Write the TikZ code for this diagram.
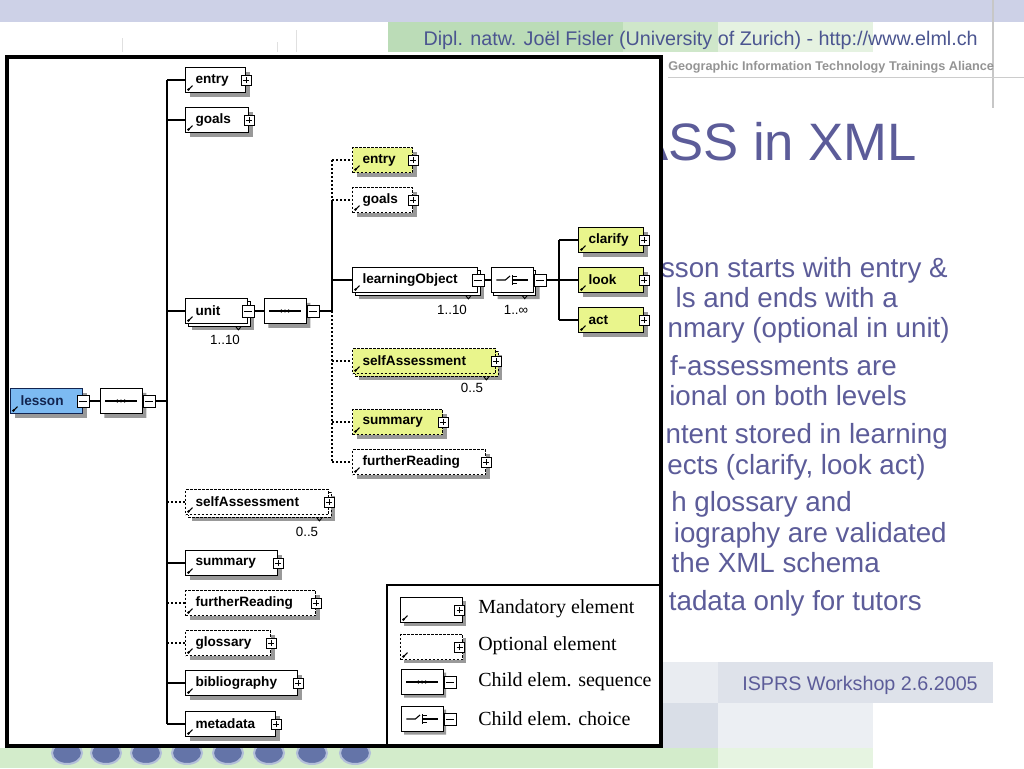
\documentclass[tikz,border=0pt]{standalone}
\usepackage{fontspec}
\setmainfont{Liberation Sans}
\newfontfamily\lgserif{Liberation Serif}
\usetikzlibrary{shapes.misc,shadows}
\definecolor{slate}{HTML}{5C5C99}
\definecolor{hdr}{HTML}{4B5590}
\definecolor{topband}{HTML}{CDD1E7}
\definecolor{gA}{HTML}{BBDCB7}
\definecolor{gB}{HTML}{CFE7CA}
\definecolor{gC}{HTML}{E5F2E1}
\definecolor{gbot}{HTML}{D3ECCB}
\definecolor{gbotb}{HTML}{E6F4E1}
\definecolor{yel}{HTML}{E9F58C}
\definecolor{lblue}{HTML}{7CBAF2}
\definecolor{navy}{HTML}{12244F}
\definecolor{grA}{HTML}{E9ECF1}
\definecolor{grB}{HTML}{DEE2EA}
\definecolor{grC}{HTML}{D9DEE7}
\definecolor{grD}{HTML}{ECEFF3}
\definecolor{btn}{HTML}{6474A8}
\definecolor{btnring}{HTML}{B3BFD9}
\definecolor{shadowc}{HTML}{999999}
\tikzset{
  elbase/.style={rectangle, draw=black, line width=0.75pt, fill=white, minimum height=18.75pt,
    text width=#1, inner xsep=7.5pt, inner ysep=0pt, align=left, anchor=west,
    font=\bfseries\fontsize{10.2}{12}\selectfont},
  el/.style={elbase=#1,
    path picture={\draw[black, solid, line width=0.8pt] ([xshift=2.2pt,yshift=2.2pt]path picture bounding box.south west) -- ++(3pt,3pt);
      \fill[black] ([xshift=2.2pt,yshift=2.2pt]path picture bounding box.south west) circle (1.1pt);}},
  multi/.style={copy shadow={shadow xshift=2.2pt, shadow yshift=-2.2pt}},
  opt/.style={dash pattern=on 1.8pt off 1.2pt},
  yl/.style={fill=yel},
  pmbase/.style={rectangle, draw=black, fill=white, line width=0.6pt, inner sep=0pt, solid},
  pbox/.style={pmbase, minimum size=7.5pt,
    path picture={\draw[line width=0.6pt] ([xshift=1.4pt]path picture bounding box.west) -- ([xshift=-1.4pt]path picture bounding box.east)
      ([yshift=1.4pt]path picture bounding box.south) -- ([yshift=-1.4pt]path picture bounding box.north);}},
  mbox/.style={pmbase, minimum size=9pt,
    path picture={\draw[line width=0.6pt] ([xshift=1.5pt]path picture bounding box.west) -- ([xshift=-1.5pt]path picture bounding box.east);}},
  oct/.style={chamfered rectangle, chamfered rectangle xsep=4pt, draw=black, line width=0.75pt, fill=white,
    minimum width=31.5pt, minimum height=18.75pt, inner sep=0pt},
  octsh/.style={oct, fill=shadowc, draw=none, xshift=#1, yshift=-#1},
  seqicon/.style={path picture={\draw[black, line width=0.8pt] ([xshift=4pt]path picture bounding box.west) -- ([xshift=-4pt]path picture bounding box.east);
      \foreach \d in {-2.7,0,2.7} \fill[black] ([xshift=\d pt]path picture bounding box.center) circle (1.3pt);}},
  choiceicon/.style={path picture={
      \draw[line width=0.8pt] ([xshift=4pt]path picture bounding box.west) -- ([xshift=-5pt]path picture bounding box.center) -- ([xshift=-1.5pt,yshift=3pt]path picture bounding box.center);
      \draw[line width=0.8pt] ([xshift=0.5pt,yshift=-3.5pt]path picture bounding box.center) -- ([xshift=0.5pt,yshift=3.5pt]path picture bounding box.center);
      \draw[line width=0.6pt] ([xshift=0.5pt,yshift=2.5pt]path picture bounding box.center) -- ++(3pt,0pt)
        ([xshift=0.5pt,yshift=-2.5pt]path picture bounding box.center) -- ++(3pt,0pt);
      \draw[line width=0.8pt] ([xshift=0.5pt]path picture bounding box.center) -- ([xshift=-4pt]path picture bounding box.east);}},
  con/.style={line width=1pt},
  optcon/.style={line width=1pt, dash pattern=on 1.5pt off 1.5pt},
  card/.style={inner sep=0pt, font=\fontsize{10}{12}\selectfont},
  tickmk/.style={line width=0.7pt},
  lgtext/.style={anchor=west, inner sep=0pt, font=\lgserif\fontsize{15}{17}\selectfont},
  bl/.style={anchor=base east, inner sep=0pt, font=\fontsize{20.8}{24}\selectfont, text=slate}
}
% #1 name, #2 text width, #3 position, #4 options, #5 label, #6 shadow offset
\newcommand\elnode[6]{%
  \node[elbase=#2, fill=shadowc, draw=none, xshift=#6, yshift=-#6] (#1-sh) at (#3) {};
  \node[el=#2, #4] (#1) at (#3) {#5};}
\begin{document}
\begin{tikzpicture}[x=0.75pt,y=-0.75pt]
\useasboundingbox (0,0) rectangle (1024,768);
% ---------- slide background ----------
\fill[white] (0,0) rectangle (1024,768);
\fill[topband] (0,0) rectangle (1024,22);
\fill[gA] (388,22) rectangle (623,52);
\fill[gB] (623,22) rectangle (718,52);
\fill[gC] (718,22) rectangle (873,52);
\draw[black!12, line width=0.75pt] (122,38) -- (122,52) (277,42) -- (277,52) (296,30) -- (296,52);
\draw[black!22, line width=1pt] (993,0) -- (993,108);
\draw[black!20, line width=0.75pt] (668,77) -- (1024,77);
\node[anchor=base east, inner sep=0pt, font=\fontsize{14.8}{16}\selectfont, text=hdr] (hdr) at (978,45)
  {Dipl. natw. Joël Fisler (University of Zurich) - http://www.elml.ch};
\node[anchor=base west, inner sep=0pt, font=\bfseries\fontsize{9.5}{11}\selectfont, text=black!42] (gitta) at (668,70)
  {Geographic Information Technology Trainings Aliance};
\node[anchor=base west, inner sep=0pt, font=\fontsize{39.5}{42}\selectfont, text=slate] (title) at (633,160) {ASS in XML};
\node[bl] (b1) at (948,277) {sson starts with entry \&};
\node[bl] (b2) at (898,307) {ls and ends with a};
\node[bl] (b3) at (950,337) {nmary (optional in unit)};
\node[bl] (b4) at (897,375) {f-assessments are};
\node[bl] (b5) at (907,405) {ional on both levels};
\node[bl] (b6) at (948,443) {ntent stored in learning};
\node[bl] (b7) at (926,474) {ects (clarify, look act)};
\node[bl] (b8) at (852,511) {h glossary and};
\node[bl] (b9) at (947,542) {iography are validated};
\node[bl] (b10) at (880,572) {the XML schema};
\node[bl] (b11) at (922,610) {tadata only for tutors};
\fill[grA] (640,662) rectangle (718,703);
\fill[grB] (718,662) rectangle (993,703);
\fill[grC] (640,703) rectangle (718,748);
\fill[grD] (718,703) rectangle (873,748);
\fill[gbot] (0,748) rectangle (718,768);
\fill[gbotb] (718,748) rectangle (873,768);
\node[anchor=base east, inner sep=0pt, font=\fontsize{14.8}{16}\selectfont, text=slate] (isprs) at (978,690) {ISPRS Workshop 2.6.2005};
\foreach \x in {67,106,146,187,228,269,312,355}
  \filldraw[fill=btn, draw=btnring, line width=1.5pt] (\x,753) ellipse (15 and 11);
% ---------- diagram frame ----------
\fill[white] (7,57) rectangle (661,746);
% ---------- lesson ----------
\elnode{lesson}{39pt}{10,401}{fill=lblue, draw=navy, text=navy}{lesson}{3.2pt}
\node[mbox] (lesson-m) at (lesson.east) {};
\node[octsh=3.2pt] (lseq-sh) at (121,401) {};
\node[oct, seqicon] (lseq) at (121,401) {};
\node[mbox, anchor=west] (lseq-m) at (lseq.east) {};
\coordinate (lbar) at (167,401);
% lesson children
\elnode{l1}{30pt}{185,80}{}{entry}{3.2pt}
\node[pbox] (l1p) at (l1.east) {};
\elnode{l2}{32.25pt}{185,120}{}{goals}{3.2pt}
\node[pbox] (l2p) at (l2.east) {};
\elnode{l3}{31.5pt}{185,311}{multi}{unit}{5pt}
\node[mbox] (l3m) at (l3.east) {};
\elnode{l4}{92.25pt}{185,502}{multi, opt}{selfAssessment}{5pt}
\node[pbox] (l4p) at (l4.east) {};
\elnode{l5}{54pt}{185,563}{}{summary}{3.2pt}
\node[pbox] (l5p) at (l5.east) {};
\elnode{l6}{82.5pt}{185,603}{opt}{furtherReading}{3.2pt}
\node[pbox] (l6p) at (l6.east) {};
\elnode{l7}{48.75pt}{185,643}{opt}{glossary}{3.2pt}
\node[pbox] (l7p) at (l7.east) {};
\elnode{l8}{69pt}{185,683}{}{bibliography}{3.2pt}
\node[pbox] (l8p) at (l8.east) {};
\elnode{l9}{52.5pt}{185,724}{}{metadata}{3.2pt}
\node[pbox] (l9p) at (l9.east) {};
\node[card] (l3c) at (225,340) {1..10};
\node[card] (l4c) at (307,532) {0..5};
\draw[tickmk] ([xshift=-9pt,yshift=-2.2pt]l3.south east) -- ++(1.8pt,-2.2pt) -- ++(1.8pt,2.2pt);
\draw[tickmk] ([xshift=-9pt,yshift=-2.2pt]l4.south east) -- ++(1.8pt,-2.2pt) -- ++(1.8pt,2.2pt);
% unit content
\node[octsh=3.2pt] (useq-sh) at (285,311) {};
\node[oct, seqicon] (useq) at (285,311) {};
\node[mbox, anchor=west] (useq-m) at (useq.east) {};
\coordinate (ubar) at (332,311);
\elnode{u1}{30pt}{352,160}{opt, yl}{entry}{3.2pt}
\node[pbox] (u1p) at (u1.east) {};
\elnode{u2}{30pt}{352,200}{opt}{goals}{3.2pt}
\node[pbox] (u2p) at (u2.east) {};
\elnode{u3}{78.75pt}{352,280}{multi}{learningObject}{5pt}
\node[mbox] (u3m) at (u3.east) {};
\elnode{u4}{92.25pt}{352,361}{multi, opt, yl}{selfAssessment}{5pt}
\node[pbox] (u4p) at (u4.east) {};
\elnode{u5}{52.5pt}{352,422}{opt, yl}{summary}{3.2pt}
\node[pbox] (u5p) at (u5.east) {};
\elnode{u6}{84.75pt}{352,462}{opt}{furtherReading}{3.2pt}
\node[pbox] (u6p) at (u6.east) {};
\node[card] (u3c) at (452,310) {1..10};
\node[card] (u4c) at (472,388) {0..5};
\draw[tickmk] ([xshift=-9pt,yshift=-2.2pt]u3.south east) -- ++(1.8pt,-2.2pt) -- ++(1.8pt,2.2pt);
\draw[tickmk] ([xshift=-9pt,yshift=-2.2pt]u4.south east) -- ++(1.8pt,-2.2pt) -- ++(1.8pt,2.2pt);
% learningObject content
\node[octsh=5pt] (uch-sh) at (512,280) {};
\node[oct, choiceicon, multi] (uch) at (512,280) {};
\node[mbox, anchor=west] (uch-m) at (uch.east) {};
\node[card] (uchc) at (516,310) {1..∞};
\draw[tickmk] ([xshift=-8pt,yshift=-2.2pt]uch.south east) -- ++(1.8pt,-2.2pt) -- ++(1.8pt,2.2pt);
\coordinate (obar) at (559,280);
\elnode{o1}{33.75pt}{578,240}{yl}{clarify}{3.2pt}
\node[pbox] (o1p) at (o1.east) {};
\elnode{o2}{33.75pt}{578,280}{yl}{look}{3.2pt}
\node[pbox] (o2p) at (o2.east) {};
\elnode{o3}{33.75pt}{578,320}{yl}{act}{3.2pt}
\node[pbox] (o3p) at (o3.east) {};
% ---------- connectors ----------
\draw[con] (lesson-m.east) -- (lseq.west);
\draw[con] (lseq-m.east) -- (lbar);
\draw[con] (l1.west -| lbar) -- (l9.west -| lbar);
\draw[con] (l1.west -| lbar) -- (l1.west);
\draw[con] (l2.west -| lbar) -- (l2.west);
\draw[con] (l3.west -| lbar) -- (l3.west);
\draw[optcon] (l4.west -| lbar) -- (l4.west);
\draw[con] (l5.west -| lbar) -- (l5.west);
\draw[optcon] (l6.west -| lbar) -- (l6.west);
\draw[optcon] (l7.west -| lbar) -- (l7.west);
\draw[con] (l8.west -| lbar) -- (l8.west);
\draw[con] (l9.west -| lbar) -- (l9.west);
\draw[con] (l3m.east) -- (useq.west);
\draw[con] (useq-m.east) -- (ubar);
\draw[optcon] (u1.west -| ubar) -- (u2.west -| ubar);
\draw[con] (u2.west -| ubar) -- (ubar);
\draw[optcon] (ubar) -- (u6.west -| ubar);
\draw[optcon] (u1.west -| ubar) -- (u1.west);
\draw[optcon] (u2.west -| ubar) -- (u2.west);
\draw[con] (u3.west -| ubar) -- (u3.west);
\draw[optcon] (u4.west -| ubar) -- (u4.west);
\draw[optcon] (u5.west -| ubar) -- (u5.west);
\draw[optcon] (u6.west -| ubar) -- (u6.west);
\draw[con] (u3m.east) -- (uch.west);
\draw[con] (uch-m.east) -- (obar);
\draw[con] (o1.west -| obar) -- (o3.west -| obar);
\draw[con] (o1.west -| obar) -- (o1.west);
\draw[con] (o2.west -| obar) -- (o2.west);
\draw[con] (o3.west -| obar) -- (o3.west);
% ---------- legend ----------
\draw[line width=0.9pt] (387,585) rectangle (661,746);
\elnode{lgm}{31.5pt}{400,610}{}{}{2.4pt}
\node[pbox] (lgm-p) at ([xshift=-2.5pt]lgm.east) {};
\node[lgtext] (lgm-t) at (478,609) {Mandatory element};
\elnode{lgo}{31.5pt}{400,647}{opt}{}{2.4pt}
\node[pbox] (lgo-p) at ([xshift=-2.5pt]lgo.east) {};
\node[lgtext] (lgo-t) at (478,646) {Optional element};
\node[octsh=2.4pt] (lgs-sh) at (422,682) {};
\node[oct, seqicon] (lgs) at (422,682) {};
\node[mbox, anchor=west] (lgs-m) at (lgs.east) {};
\node[lgtext] (lgs-t) at (478,682) {Child elem. sequence};
\node[octsh=2.4pt] (lgc-sh) at (422,719) {};
\node[oct, choiceicon] (lgc) at (422,719) {};
\node[mbox, anchor=west] (lgc-m) at (lgc.east) {};
\node[lgtext] (lgc-t) at (478,719) {Child elem. choice};
% frame stroke
\draw[line width=2.3pt] (7,57) rectangle (661,746);
\end{tikzpicture}
\end{document}
